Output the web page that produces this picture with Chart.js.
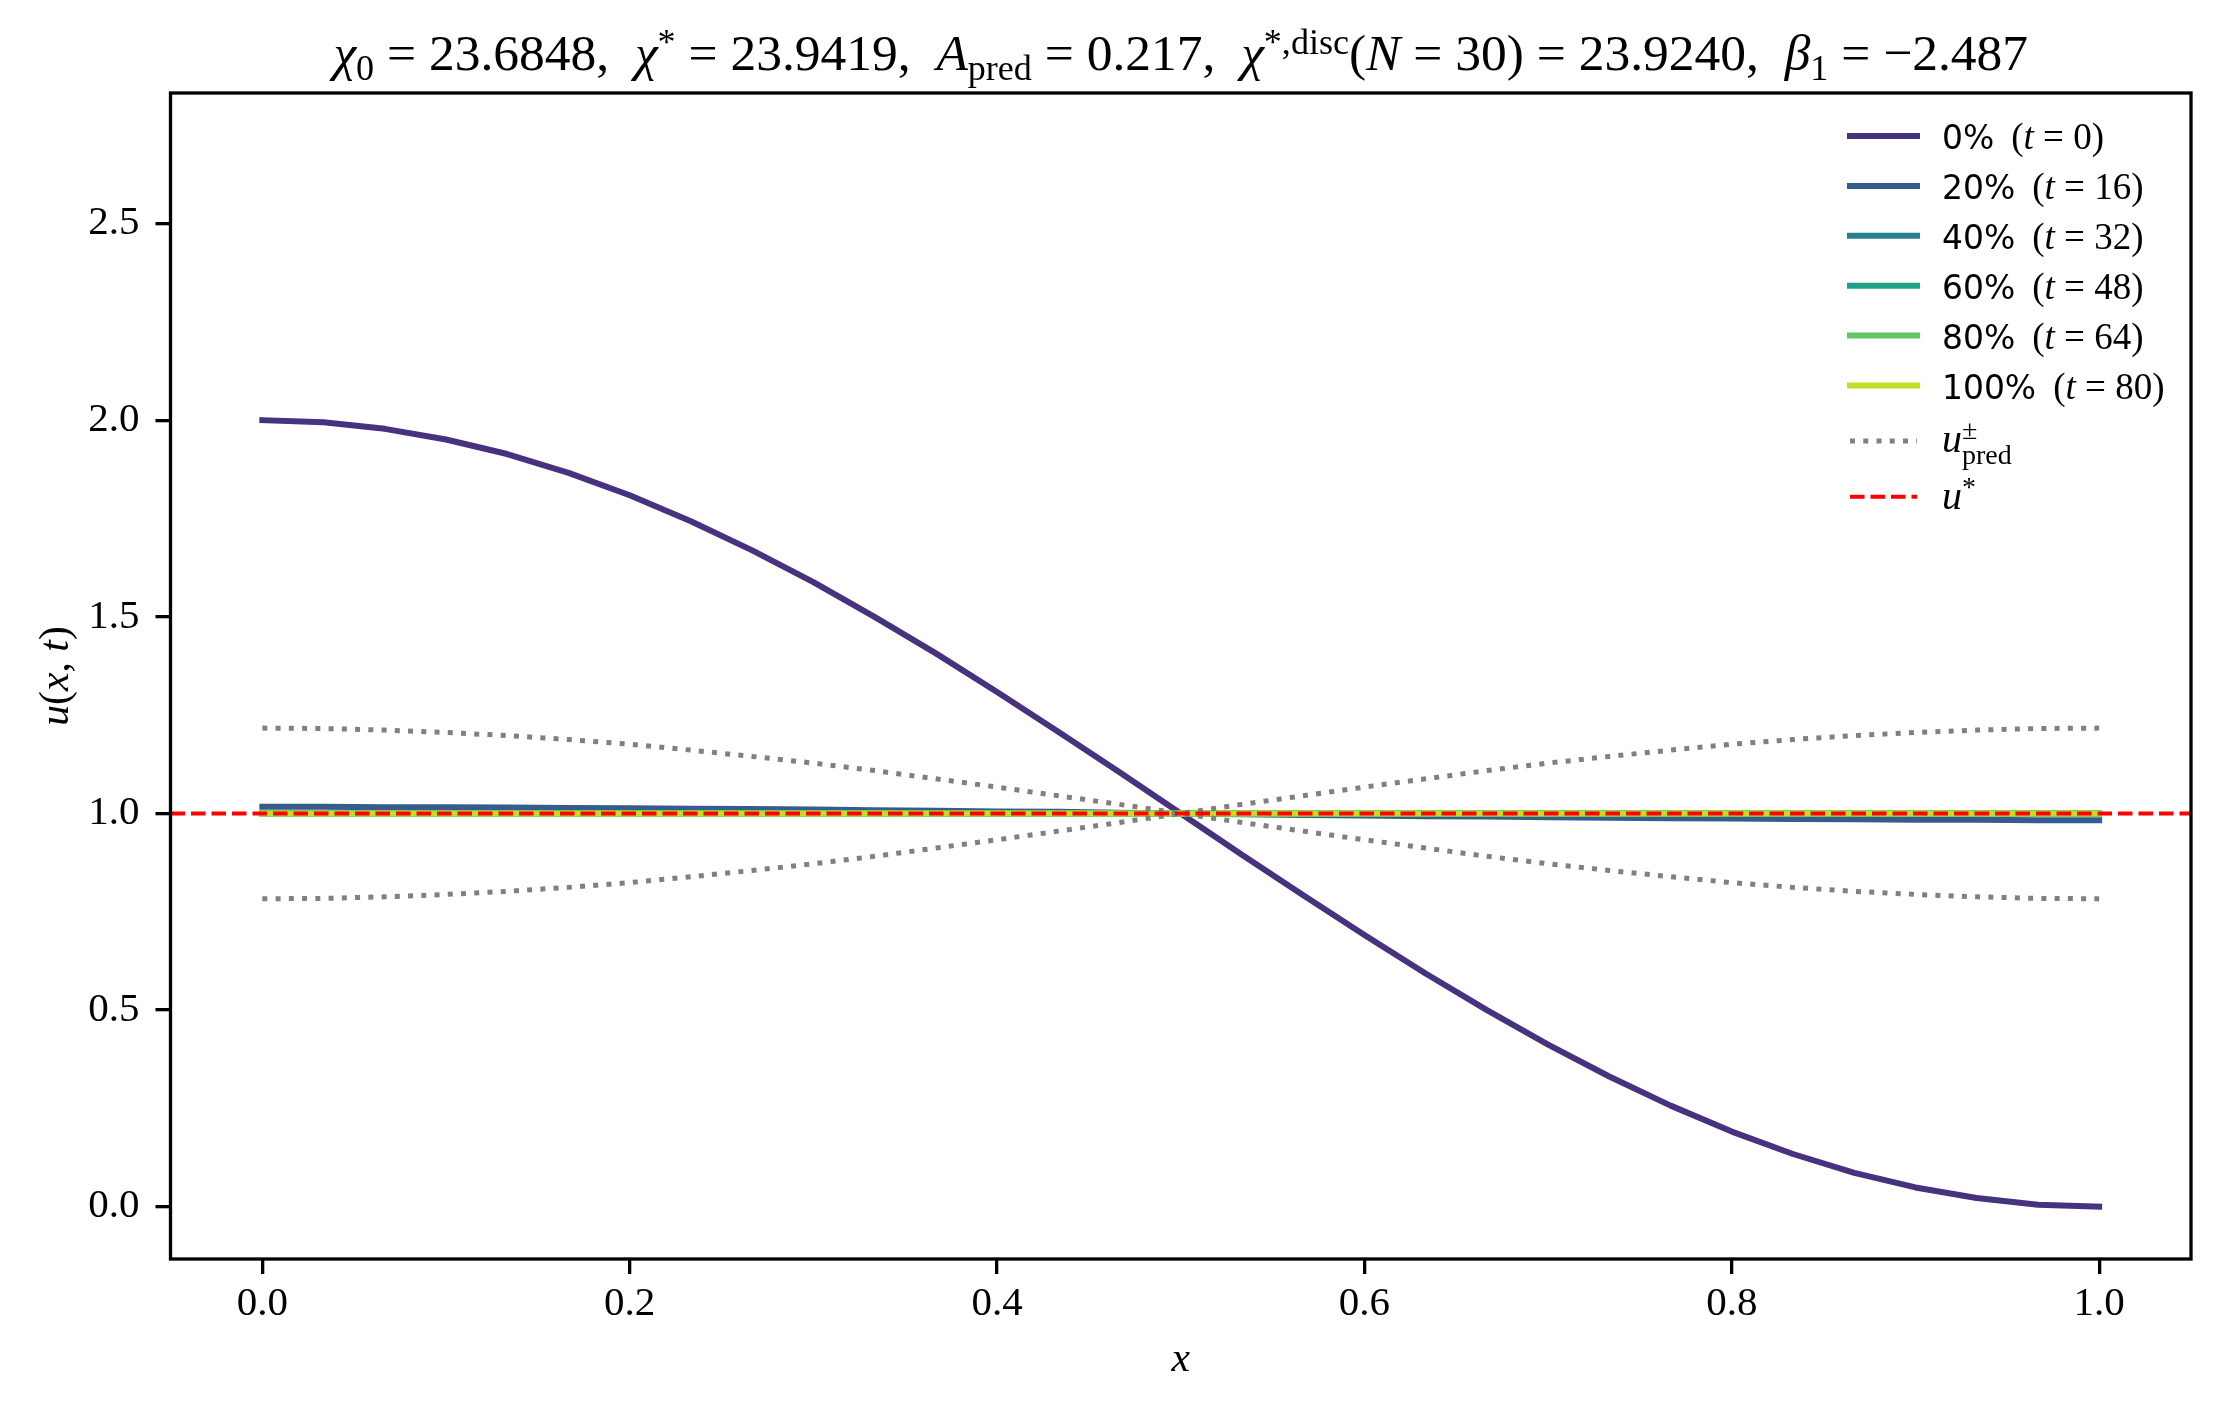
<!DOCTYPE html>
<html>
<head>
<meta charset="utf-8">
<script src="https://cdn.jsdelivr.net/npm/chart.js@4.4.0/dist/chart.umd.min.js"></script>
<style>
  html, body { margin: 0; padding: 0; background: #fff; }
  #wrap { width: 2220px; height: 1409px; }
</style>
</head>
<body>
<div id="wrap"><canvas id="chart"></canvas></div>
<script>
// --- DATA ---
const xGrid = [0.0000, 0.0333, 0.0667, 0.1000, 0.1333, 0.1667, 0.2000, 0.2333, 0.2667, 0.3000,
               0.3333, 0.3667, 0.4000, 0.4333, 0.4667, 0.5000, 0.5333, 0.5667, 0.6000, 0.6333,
               0.6667, 0.7000, 0.7333, 0.7667, 0.8000, 0.8333, 0.8667, 0.9000, 0.9333, 0.9667, 1.0000];

const pctLabels = ['0%', '20%', '40%', '60%', '80%', '100%'];
const timeLabels = ['0', '16', '32', '48', '64', '80'];

const u0 = [2.000, 1.995, 1.978, 1.951, 1.914, 1.866, 1.809, 1.743, 1.669, 1.588,
            1.500, 1.407, 1.309, 1.208, 1.105, 1.000, 0.895, 0.792, 0.691, 0.593,
            0.500, 0.412, 0.331, 0.257, 0.191, 0.134, 0.086, 0.049, 0.022, 0.005, 0.000];
const u20 = [1.017, 1.017, 1.016, 1.016, 1.015, 1.014, 1.013, 1.012, 1.011, 1.010,
             1.008, 1.007, 1.005, 1.004, 1.002, 1.000, 0.998, 0.996, 0.995, 0.993,
             0.992, 0.990, 0.989, 0.988, 0.987, 0.986, 0.985, 0.984, 0.984, 0.983, 0.983];
const u40 = [1.0003, 1.0003, 1.0003, 1.0003, 1.0003, 1.0003, 1.0002, 1.0002, 1.0002, 1.0002,
             1.0002, 1.0001, 1.0001, 1.0001, 1.0000, 1.0000, 1.0000, 0.9999, 0.9999, 0.9999,
             0.9998, 0.9998, 0.9998, 0.9998, 0.9998, 0.9997, 0.9997, 0.9997, 0.9997, 0.9997, 0.9997];
const u60 = [1.000, 1.000, 1.000, 1.000, 1.000, 1.000, 1.000, 1.000, 1.000, 1.000,
             1.000, 1.000, 1.000, 1.000, 1.000, 1.000, 1.000, 1.000, 1.000, 1.000,
             1.000, 1.000, 1.000, 1.000, 1.000, 1.000, 1.000, 1.000, 1.000, 1.000, 1.000];
const u80 = [1.000, 1.000, 1.000, 1.000, 1.000, 1.000, 1.000, 1.000, 1.000, 1.000,
             1.000, 1.000, 1.000, 1.000, 1.000, 1.000, 1.000, 1.000, 1.000, 1.000,
             1.000, 1.000, 1.000, 1.000, 1.000, 1.000, 1.000, 1.000, 1.000, 1.000, 1.000];
const u100 = [1.000, 1.000, 1.000, 1.000, 1.000, 1.000, 1.000, 1.000, 1.000, 1.000,
              1.000, 1.000, 1.000, 1.000, 1.000, 1.000, 1.000, 1.000, 1.000, 1.000,
              1.000, 1.000, 1.000, 1.000, 1.000, 1.000, 1.000, 1.000, 1.000, 1.000, 1.000];

const uPredPlus = [1.217, 1.216, 1.212, 1.206, 1.198, 1.188, 1.176, 1.161, 1.145, 1.128,
                   1.109, 1.088, 1.067, 1.045, 1.023, 1.000, 0.977, 0.955, 0.933, 0.912,
                   0.891, 0.872, 0.855, 0.839, 0.824, 0.812, 0.802, 0.794, 0.788, 0.784, 0.783];
const uPredMinus = [0.783, 0.784, 0.788, 0.794, 0.802, 0.812, 0.824, 0.839, 0.855, 0.872,
                    0.891, 0.912, 0.933, 0.955, 0.977, 1.000, 1.023, 1.045, 1.067, 1.088,
                    1.109, 1.128, 1.145, 1.161, 1.176, 1.188, 1.198, 1.206, 1.212, 1.216, 1.217];
const uStar = 1.0;

const xTicks = [0.0, 0.2, 0.4, 0.6, 0.8, 1.0];
const yTicks = [0.0, 0.5, 1.0, 1.5, 2.0, 2.5];
const xLimits = [-0.05, 1.05];
const yLimits = [-0.133, 2.832];

const chi0 = '23.6848', chiStar = '23.9419', aPred = '0.217', nDisc = '30', chiDisc = '23.9240', beta1 = '−2.487';

// --- STYLE ---
const SERIF = '"Liberation Serif", "DejaVu Serif", serif';
const SANS = '"DejaVu Sans", sans-serif';
const lineColors = ['#46327e', '#365c8d', '#277f8e', '#1fa187', '#5ec962', '#bddf26'];
const snapshots = [u0, u20, u40, u60, u80, u100];

const pts = vals => xGrid.map((x, i) => ({ x, y: vals[i] }));

const datasets = snapshots.map((vals, i) => ({
    label: pctLabels[i],
    data: pts(vals),
    borderColor: lineColors[i],
    borderWidth: 6,
    borderCapStyle: 'square',
    borderJoinStyle: 'round'
}));
datasets.push(
    { label: 'u_pred+', data: pts(uPredPlus), borderColor: '#808080', borderWidth: 5, borderDash: [5, 8.25] },
    { label: 'u_pred-', data: pts(uPredMinus), borderColor: '#808080', borderWidth: 5, borderDash: [5, 8.25] },
    { label: 'u*', data: [{ x: xLimits[0], y: uStar }, { x: xLimits[1], y: uStar }], borderColor: '#ff0000', borderWidth: 4, borderDash: [14.5, 6] }
);
datasets.forEach((d, i) => { d.order = 100 - i; d.pointRadius = 0; d.fill = false; d.tension = 0; });

// --- rich text (sub/superscripts) ---
function partFont(kind, size) {
    switch (kind) {
        case 'i': return { font: `italic ${size}px ${SERIF}`, dy: 0 };
        case 'sub': return { font: `${size * 0.7}px ${SERIF}`, dy: size * 0.2 };
        case 'sub2': return { font: `${size * 0.7}px ${SERIF}`, dy: size * 0.3 };
        case 'sup': return { font: `${size * 0.7}px ${SERIF}`, dy: -size * 0.32 };
        case 'sans': return { font: `${size * 0.89}px ${SANS}`, dy: 0 };
        default: return { font: `${size}px ${SERIF}`, dy: 0 };
    }
}
function richWidth(ctx, parts, size) {
    let w = 0;
    parts.forEach(([text, kind, keep]) => {
        ctx.font = partFont(kind, size).font;
        if (!keep) w += ctx.measureText(text).width;
    });
    return w;
}
function drawRich(ctx, parts, x, y, size, align) {
    let cx = x;
    if (align === 'center') cx -= richWidth(ctx, parts, size) / 2;
    ctx.textAlign = 'left';
    ctx.textBaseline = 'alphabetic';
    parts.forEach(([text, kind, keep]) => {
        const f = partFont(kind, size);
        ctx.font = f.font;
        ctx.fillText(text, cx, y + f.dy);
        if (!keep) cx += ctx.measureText(text).width;
    });
}

const titleParts = [
    ['χ', 'i'], ['0', 'sub'], [' = ' + chi0 + ',  ', 'r'],
    ['χ', 'i'], ['*', 'sup'], [' = ' + chiStar + ',  ', 'r'],
    ['A', 'i'], ['pred', 'sub'], [' = ' + aPred + ',  ', 'r'],
    ['χ', 'i'], ['*,disc', 'sup'], ['(', 'r'], ['N', 'i'], [' = ' + nDisc + ') = ' + chiDisc + ',  ', 'r'],
    ['β', 'i'], ['1', 'sub'], [' = ' + beta1, 'r']
];

const decorPlugin = {
    id: 'decor',
    afterDraw(chart) {
        const ctx = chart.ctx;
        const a = chart.chartArea;
        ctx.save();
        // frame
        ctx.strokeStyle = '#000';
        ctx.lineWidth = 3.3;
        ctx.lineJoin = 'miter';
        ctx.setLineDash([]);
        ctx.strokeRect(a.left, a.top, a.right - a.left, a.bottom - a.top);

        ctx.fillStyle = '#000';
        // title, fitted to the reference width
        const midX = (a.left + a.right) / 2;
        const tSize = 50 * 1695 / richWidth(ctx, titleParts, 50);
        drawRich(ctx, titleParts, midX, 70, tSize, 'center');

        // axis labels
        drawRich(ctx, [['x', 'i']], midX, 1371, 41.7, 'center');
        ctx.save();
        ctx.translate(68, (a.top + a.bottom) / 2);
        ctx.rotate(-Math.PI / 2);
        drawRich(ctx, [['u', 'i'], ['(', 'r'], ['x', 'i'], [', ', 'r'], ['t', 'i'], [')', 'r']], 0, 0, 41.7, 'center');
        ctx.restore();

        // legend
        const lx0 = 1850, lx1 = 1917, tx = 1942, fs = 37;
        const ds = chart.data.datasets;
        for (let i = 0; i < snapshots.length; i++) {
            const cy = 136 + 49.9 * i;
            ctx.strokeStyle = ds[i].borderColor;
            ctx.lineWidth = ds[i].borderWidth;
            ctx.lineCap = 'square';
            ctx.setLineDash([]);
            ctx.beginPath(); ctx.moveTo(lx0, cy); ctx.lineTo(lx1, cy); ctx.stroke();
            drawRich(ctx, [[pctLabels[i] + ' \u2009', 'sans'], ['(', 'r'], ['t', 'i'], [' = ' + timeLabels[i] + ')', 'r']], tx, cy + 13, fs);
        }
        const dp = ds[snapshots.length], dr = ds[snapshots.length + 2];
        ctx.lineCap = 'butt';
        ctx.strokeStyle = dp.borderColor; ctx.lineWidth = dp.borderWidth; ctx.setLineDash(dp.borderDash);
        ctx.beginPath(); ctx.moveTo(lx0, 441); ctx.lineTo(lx1, 441); ctx.stroke();
        ctx.strokeStyle = dr.borderColor; ctx.lineWidth = dr.borderWidth; ctx.setLineDash(dr.borderDash);
        ctx.beginPath(); ctx.moveTo(lx0, 496.7); ctx.lineTo(lx1, 496.7); ctx.stroke();
        ctx.setLineDash([]);
        drawRich(ctx, [['u', 'i'], ['±', 'sup', true], ['pred', 'sub2']], tx, 452, 40);
        drawRich(ctx, [['u', 'i'], ['*', 'sup']], tx, 509, 40);
        ctx.restore();
    }
};

const tickFont = { family: SERIF, size: 41 };
const gridOpts = { display: true, drawOnChartArea: false, drawTicks: true, tickLength: 15, lineWidth: 3.3, tickWidth: 3.3, color: '#000', tickColor: '#000' };

new Chart(document.getElementById('chart'), {
    type: 'line',
    data: { datasets },
    options: {
        responsive: true,
        maintainAspectRatio: false,
        devicePixelRatio: 1,
        animation: false,
        layout: { padding: { top: 93, right: 29, left: 0, bottom: 0 } },
        plugins: { legend: { display: false }, title: { display: false }, tooltip: { enabled: false } },
        scales: {
            x: {
                type: 'linear',
                min: xLimits[0], max: xLimits[1],
                afterBuildTicks: s => { s.ticks = xTicks.map(v => ({ value: v })); },
                afterFit: s => { s.height = 150; },
                ticks: { callback: v => Number(v).toFixed(1), font: tickFont, color: '#000', padding: 6, maxRotation: 0, autoSkip: false },
                grid: gridOpts,
                border: { display: false }
            },
            y: {
                type: 'linear',
                min: yLimits[0], max: yLimits[1],
                afterBuildTicks: s => { s.ticks = yTicks.map(v => ({ value: v })); },
                afterFit: s => { s.width = 170.5; },
                ticks: { callback: v => Number(v).toFixed(1), font: tickFont, color: '#000', padding: 16, autoSkip: false },
                grid: gridOpts,
                border: { display: false }
            }
        }
    },
    plugins: [decorPlugin]
});
</script>
</body>
</html>
